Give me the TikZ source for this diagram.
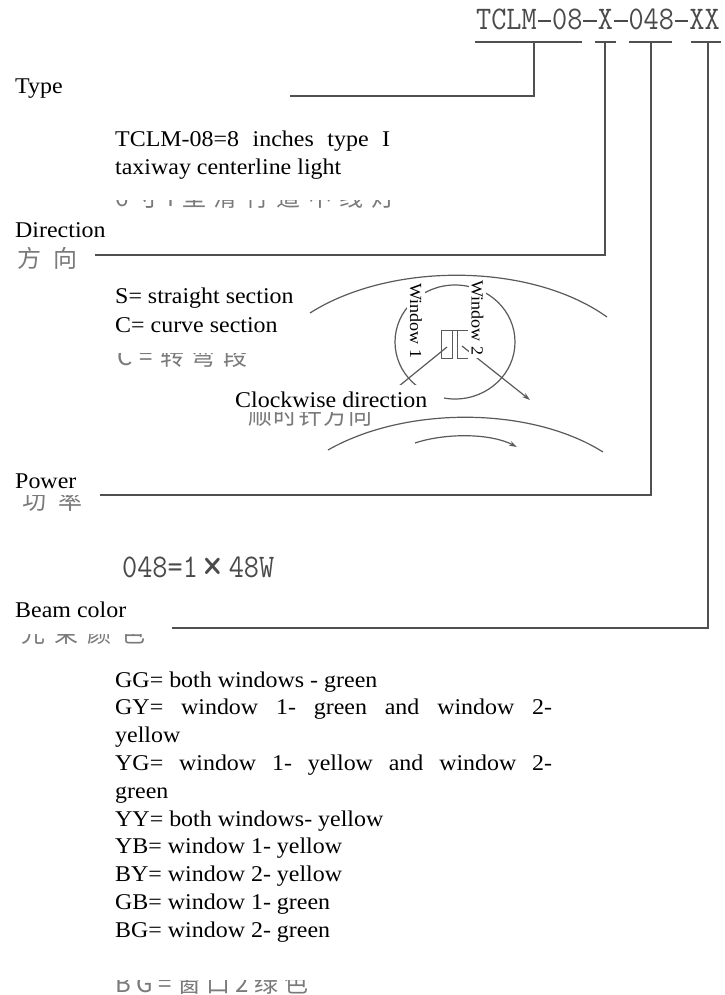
\documentclass[tikz,border=0pt]{standalone}
\usepackage{fontspec}
\setmainfont{Liberation Serif}[FakeStretch=1.064]
\newfontfamily\cjk{Noto Sans CJK SC}
\usetikzlibrary{arrows.meta}
\definecolor{linegray}{HTML}{505050}
\definecolor{codegray}{HTML}{4A4A4A}
\definecolor{cngray}{HTML}{7A7A7A}
\definecolor{figgray}{HTML}{5A5A5A}
\newcommand\lblfont{\fontsize{22.5}{27.8}\selectfont}
\newcommand\winfont{\fontsize{17}{20}\selectfont}
\newcommand\cnfont{\cjk\fontsize{24}{24}\selectfont}
\newcommand\cdfont{\ttfamily\fontsize{33}{33}\selectfont}
\newcommand\cdash{\makebox[0.525em]{\rule[0.25em]{0.46em}{0.045em}}}
\newcommand\codetext[1]{\scalebox{0.891}[1]{\cdfont #1}}
\begin{document}
\begin{tikzpicture}[x=1pt,y=-1pt,
  lbl/.style={anchor=base west,inner sep=0pt,font=\lblfont},
  cn/.style={anchor=base west,inner sep=0pt,text=cngray,font=\cnfont},
  code/.style={anchor=base west,inner sep=0pt,text=codegray},
  mask/.style={fill=white,draw=none},
  conn/.style={draw=linegray,line width=1.6pt},
  fig/.style={draw=figgray,line width=1.2pt},
  wtext/.style={rotate=-90,fill=white,inner sep=2.5pt,font=\winfont},
  tip/.style={-{Stealth[length=8pt,width=5pt]}}
]
\path[use as bounding box,fill=white] (0,0) rectangle (724,995);

% ---- Chinese remnants (partly covered) ----
\node[cn] (cn1) at (115,207) {\hbox to 280pt{6\hfil 寸\hfil I\hfil 型\hfil 滑\hfil 行\hfil 道\hfil 中\hfil 线\hfil 灯}};
\node[cn] (cn2) at (17,267) {\hbox to 60pt{方\hfil 向}};
\node[cn] (cn3) at (117,365) {\hbox to 130pt{C\hfil =\hfil 转\hfil 弯\hfil 段}};
\node[cn] (cn4) at (248,424) {\hbox to 124pt{顺\hfil 时\hfil 针\hfil 方\hfil 向}};
\node[cn] (cn5) at (22,509) {\hbox to 60pt{功\hfil 率}};
\node[cn] (cn6) at (21,642) {\hbox to 124pt{光\hfil 束\hfil 颜\hfil 色}};
\node[cn] (cn7) at (115,992) {\hbox to 193pt{B\hfil G\hfil =\hfil 窗\hfil 口\hfil 2\hfil 绿\hfil 色}};

% ---- white masks (text boxes) ----
\path[mask] (105,110) rectangle (405,200);
\path[mask] (8,212) rectangle (112,247);
\path[mask] (105,278) rectangle (300,353);
\path[mask] (8,462) rectangle (97,495);
\path[mask] (8,595) rectangle (168,634);
\path[mask] (105,665) rectangle (560,980);

% ---- code ----
\node[code] (code) at (476,30) {\codetext{TCLM\cdash 08\cdash X\cdash 048\cdash XX}};
\node[code] (pw) at (122,577) {\codetext{048=1\makebox[1.05em][c]{\raisebox{-0.14em}{\scalebox{1.5}{×}}}48W}};

% ---- labels ----
\node[lbl] (type) at (15,94) {Type};
\node[lbl] (t1) at (115,147) {\makebox[275pt][s]{TCLM-08=8 inches type I}};
\node[lbl] (t2) at (115,175) {taxiway centerline light};
\node[lbl] (dir) at (15,237) {Direction};
\node[lbl] (s1) at (115,303) {S= straight section};
\node[lbl] (s2) at (115,332) {C= curve section};
\node[lbl] (pow) at (15,488) {Power};
\node[lbl] (beam) at (15,617) {Beam color};
\node[lbl] (b0) at (115,687) {GG= both windows - green};
\node[lbl] (b1) at (115,714.8) {\makebox[437pt][s]{GY= window 1- green and window 2-}};
\node[lbl] (b2) at (115,742.6) {yellow};
\node[lbl] (b3) at (115,770.4) {\makebox[437pt][s]{YG= window 1- yellow and window 2-}};
\node[lbl] (b4) at (115,798.2) {green};
\node[lbl] (b5) at (115,826) {YY= both windows- yellow};
\node[lbl] (b6) at (115,853.8) {YB= window 1- yellow};
\node[lbl] (b7) at (115,881.6) {BY= window 2- yellow};
\node[lbl] (b8) at (115,909.4) {GB= window 1- green};
\node[lbl] (b9) at (115,937.2) {BG= window 2- green};

% ---- connectors ----
\coordinate (u1l) at (475,42); \coordinate (u1r) at (582,42); \coordinate (u1m) at (534,42);
\coordinate (u2l) at (595,42); \coordinate (u2r) at (616,42); \coordinate (u2m) at (605,42);
\coordinate (u3l) at (629,42); \coordinate (u3r) at (672,42); \coordinate (u3m) at (651,42);
\coordinate (u4l) at (691,42); \coordinate (u4r) at (721,42); \coordinate (u4m) at (708,42);
\coordinate (typeEnd) at (290,96);
\coordinate (dirEnd) at (95,255);
\coordinate (powEnd) at (100,495);
\coordinate (beamEnd) at (172,628);
\draw[conn] (u1l) -- (u1r);
\draw[conn] (u2l) -- (u2r);
\draw[conn] (u3l) -- (u3r);
\draw[conn] (u4l) -- (u4r);
\draw[conn] (u1m) |- (typeEnd);
\draw[conn] (u2m) |- (dirEnd);
\draw[conn] (u3m) |- (powEnd);
\draw[conn] (u4m) |- (beamEnd);

% ---- direction sketch ----
\draw[fig] (310,313) .. controls (390,262) and (530,262) .. (607,317);
\draw[fig] (328,450) .. controls (405,406) and (530,406) .. (603,452);
\draw[fig,tip] (415,443) .. controls (445,433) and (490,433) .. (517,447);
\draw[fig] (455,342) ellipse [x radius=60, y radius=57];
\draw[fig,line width=1pt] (441,330) rectangle (452,358);
\draw[fig,line width=1pt] (468,330) -- (452,330);
\draw[fig,line width=1pt] (457,330) -- (457,358) -- (468,358);
\coordinate (w1s) at (447,347); \coordinate (w1e) at (388,395);
\coordinate (w2s) at (462,346); \coordinate (w2e) at (530,400);
\draw[fig] (w1s) -- (w1e);
\draw[fig,tip] (w2s) -- (w2e);
\node[wtext] (win1) at (416,321) {Window 1};
\node[wtext] (win2) at (477.5,318) {Window 2};
\path[mask] (230,385) rectangle (444,412);
\node[lbl] (cw) at (235,407) {Clockwise direction};
\end{tikzpicture}
\end{document}
